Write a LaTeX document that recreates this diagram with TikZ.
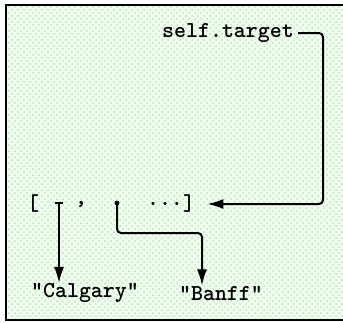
\documentclass[tikz,border=0pt]{standalone}
\usepackage{fontspec}
\setmonofont{Latin Modern Mono Light}
\usetikzlibrary{arrows.meta,patterns}

\begin{document}
\begin{tikzpicture}[
    x=0.5pt, y=-0.5pt,
    code/.style={
        font=\ttfamily\bfseries\fontsize{11.4}{13}\selectfont,
        inner sep=2pt,
        anchor=center
    },
    ptr/.style={
        -{Latex[length=8pt,width=5pt]},
        line width=1pt,
        rounded corners=2pt
    }
]
\useasboundingbox (0,0) rectangle (343,322);
\clip (0,0) rectangle (343,322);

% Background
\fill[green!8] (6,5) rectangle (350,320);
\fill[pattern=crosshatch dots, pattern color=gray!35] (6,5) rectangle (350,320);
\draw[line width=1pt] (6,5) rectangle (350,320);

% Nodes
\node[code] (target) at (228,33) {self.target};

\node[code] (lbrack) at (33,204) {[};
\node[code] (comma) at (81,204) {,};
\node[code] (dots) at (165,204) {...};
\node[code] (rbrack) at (189,204) {]};

\coordinate (slotA) at (59,203);
\coordinate (slotB) at (117,203);
\coordinate (rim) at (323,120);

\node[code] (calgary) at (85,293) {"Calgary"};
\node[code] (banff) at (221,293) {"Banff"};

% Arrows
\draw[ptr, shorten >=4pt] (target.east) -| (rim) |- (rbrack.east);
\draw[ptr, shorten >=-2pt] (slotA) -- (slotA |- calgary.north);
\draw[ptr, shorten >=-2pt] (slotB) -- ++(0,30) -| ([xshift=-9.5pt]banff.north);
\draw[line width=1pt] ([xshift=-2pt]slotA) -- ([xshift=2pt]slotA);
\fill (slotB) circle (1.2pt);

\end{tikzpicture}
\end{document}
